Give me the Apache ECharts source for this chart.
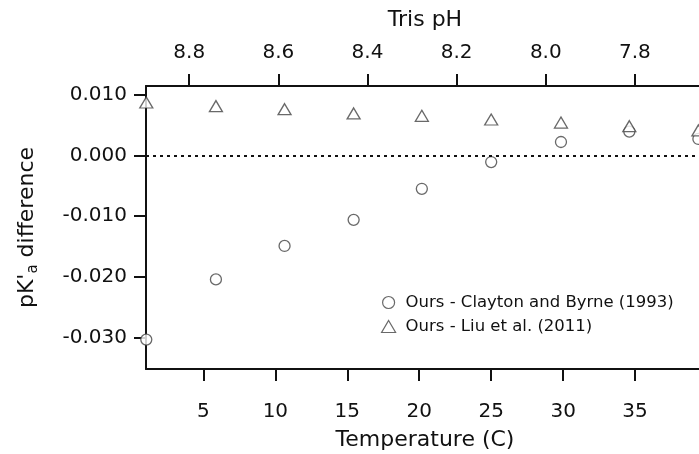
<!DOCTYPE html>
<html>
<head>
<meta charset="utf-8">
<script src="https://cdn.jsdelivr.net/npm/echarts@6/dist/echarts.min.js"></script>
<style>
  html, body { margin: 0; padding: 0; background: #fff; }
  #main { width: 699px; height: 454px; }
</style>
</head>
<body>
<div id="main"></div>
<script>
// temperature (C) of each measurement
var temps = [1.03, 5.87, 10.64, 15.44, 20.18, 25.0, 29.85, 34.6, 39.4];
// Ours - Clayton and Byrne (1993)
var claytonDiff = [-0.0303, -0.0204, -0.0149, -0.0106, -0.0055, -0.0011, 0.0022, 0.0039, 0.0027];
// Ours - Liu et al. (2011)
var liuDiff = [0.0087, 0.0081, 0.0076, 0.0069, 0.0065, 0.0059, 0.0054, 0.0048, 0.0041];

var tempTicks = [5, 10, 15, 20, 25, 30, 35];
var phTicks = [7.8, 8.0, 8.2, 8.4, 8.6, 8.8];
var diffTicks = [-0.03, -0.02, -0.01, 0, 0.01];

function pairs(xs, ys) {
    var out = [];
    for (var i = 0; i < xs.length; i++) {
        out.push([xs[i], ys[i]]);
    }
    return out;
}

var font = 'DejaVu Sans';
var axisLine = { show: true, onZero: false, lineStyle: { color: '#111', width: 2 } };
var axisTick = { show: true, inside: false, length: 12, lineStyle: { color: '#111', width: 2 } };

echarts.init(document.getElementById('main')).setOption({
    animation: false,
    backgroundColor: '#fff',
    textStyle: { fontFamily: font },
    grid: {
        left: 146,
        top: 86,
        width: 558,
        height: 283,
        containLabel: false,
        outerBoundsMode: 'none'
    },
    legend: {
        orient: 'vertical',
        left: 376,
        top: 289,
        itemGap: 7,
        itemWidth: 14,
        itemHeight: 12,
        itemStyle: { borderWidth: 1.2 },
        textStyle: { fontFamily: font, fontSize: 16.5, color: '#111', padding: [0, 0, 0, 5] },
        data: ['Ours - Clayton and Byrne (1993)', 'Ours - Liu et al. (2011)']
    },
    xAxis: [{
        type: 'value',
        position: 'bottom',
        min: 1.01,
        max: 39.79,
        name: 'Temperature (C)',
        nameLocation: 'middle',
        nameGap: 60,
        nameTextStyle: { fontFamily: font, fontSize: 22, color: '#111' },
        axisLine: axisLine,
        axisTick: Object.assign({ customValues: tempTicks }, axisTick),
        axisLabel: {
            customValues: tempTicks,
            margin: 33,
            fontFamily: font,
            fontSize: 20,
            color: '#111'
        },
        splitLine: { show: false }
    }, {
        type: 'value',
        position: 'top',
        inverse: true,
        min: 7.645,
        max: 8.897,
        name: 'Tris pH',
        nameLocation: 'middle',
        nameGap: 55,
        nameTextStyle: { fontFamily: font, fontSize: 22, color: '#111' },
        axisLine: axisLine,
        axisTick: Object.assign({ customValues: phTicks }, axisTick),
        axisLabel: {
            customValues: phTicks,
            margin: 23,
            fontFamily: font,
            fontSize: 20,
            color: '#111',
            formatter: function (v) { return v.toFixed(1); }
        },
        splitLine: { show: false }
    }],
    yAxis: {
        type: 'value',
        min: -0.03514,
        max: 0.01141,
        name: "{b|pK'}{s|a}{b| difference}",
        nameLocation: 'middle',
        nameRotate: 90,
        nameGap: 105,
        nameTextStyle: {
            rich: {
                b: { fontFamily: font, fontSize: 22, color: '#111' },
                s: { fontFamily: font, fontSize: 15, color: '#111', padding: [12, 0, 0, 0] }
            }
        },
        axisLine: axisLine,
        axisTick: Object.assign({ customValues: diffTicks }, axisTick),
        axisLabel: {
            customValues: diffTicks,
            margin: 19,
            fontFamily: font,
            fontSize: 20,
            color: '#111',
            formatter: function (v) { return v.toFixed(3); }
        },
        splitLine: { show: false }
    },
    series: [{
        name: 'Ours - Clayton and Byrne (1993)',
        type: 'scatter',
        xAxisIndex: 0,
        symbol: 'circle',
        symbolSize: 11,
        clip: false,
        itemStyle: { color: '#fff', borderColor: '#444', borderWidth: 1.3 },
        data: pairs(temps, claytonDiff),
        markLine: {
            silent: true,
            symbol: 'none',
            label: { show: false },
            lineStyle: { color: '#111', type: [3, 4], width: 2 },
            data: [{ yAxis: 0 }]
        }
    }, {
        name: 'Ours - Liu et al. (2011)',
        type: 'scatter',
        xAxisIndex: 0,
        symbol: 'triangle',
        symbolSize: [13, 11],
        clip: false,
        itemStyle: { color: '#fff', borderColor: '#444', borderWidth: 1.3 },
        data: pairs(temps, liuDiff)
    }]
});
</script>
</body>
</html>
